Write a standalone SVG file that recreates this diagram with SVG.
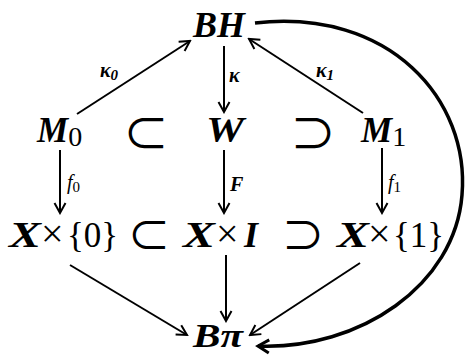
<svg xmlns="http://www.w3.org/2000/svg" width="467" height="356" viewBox="0 0 467 356">
<style>
.m{font-family:"Liberation Serif","DejaVu Serif",serif;font-weight:bold;font-style:italic;font-size:35px;fill:#000}
.x{font-family:"Liberation Serif","DejaVu Serif",serif;font-weight:bold;font-style:italic;font-size:36px;fill:#000}
.r{font-family:"Liberation Serif","DejaVu Serif",serif;font-weight:normal;font-style:normal;fill:#000}
.s{font-family:"Noto Sans CJK JP","DejaVu Sans",sans-serif;font-weight:normal;font-style:normal;fill:#000}
.lab{font-family:"Liberation Serif","DejaVu Serif",serif;font-style:italic;font-size:20px;fill:#000}
.e{stroke:#000;stroke-width:2;fill:none}
</style>
<defs>
<marker id="ah" markerWidth="14" markerHeight="14" refX="12" refY="7" orient="auto" markerUnits="userSpaceOnUse">
<path d="M2,1.5 L12,7 L2,12.5" fill="none" stroke="#000" stroke-width="2"/>
</marker>
<marker id="ahb" markerWidth="18" markerHeight="18" refX="14" refY="9" orient="auto" markerUnits="userSpaceOnUse">
<path d="M3,2.5 L14,9 L3,15.5" fill="none" stroke="#000" stroke-width="3"/>
</marker>
</defs>
<g id="BH"><text class="m" x="193" y="37" textLength="52" lengthAdjust="spacingAndGlyphs">BH</text></g>
<g id="M0"><text class="m" x="37" y="142">M<tspan class="r" font-size="28" dy="4">0</tspan></text></g>
<g id="W"><text class="m" x="206" y="142" textLength="38" lengthAdjust="spacingAndGlyphs">W</text></g>
<g id="M1"><text class="m" x="361" y="142">M<tspan class="r" font-size="28" dy="4">1</tspan></text></g>
<g id="sub1"><text class="s" x="146" y="150" style="font-size:46px" text-anchor="middle">⊂</text></g>
<g id="sup1"><text class="s" x="313" y="150" style="font-size:46px" text-anchor="middle">⊃</text></g>
<g id="X0"><text class="x" x="9" y="247" textLength="32" lengthAdjust="spacingAndGlyphs">X</text><text class="r" x="41" y="247" font-size="40">×</text><text class="r" x="67" y="247" font-size="35">{0}</text></g>
<g id="sub2"><text class="s" x="149" y="251" style="font-size:43px" text-anchor="middle">⊂</text></g>
<g id="XI"><text class="x" x="183" y="247" textLength="32" lengthAdjust="spacingAndGlyphs">X</text><text class="r" x="216" y="247" font-size="40">×</text><text class="x" x="244" y="247">I</text></g>
<g id="sup2"><text class="s" x="303" y="251" style="font-size:43px" text-anchor="middle">⊃</text></g>
<g id="X1"><text class="x" x="337" y="247" textLength="32" lengthAdjust="spacingAndGlyphs">X</text><text class="r" x="368" y="247" font-size="40">×</text><text class="r" x="393" y="247" font-size="35">{1}</text></g>
<g id="Bpi"><text class="m" x="193" y="347" font-size="33" textLength="50" lengthAdjust="spacingAndGlyphs" style="font-size:33px">Bπ</text></g>
<g id="connectors">
<line class="e" x1="77" y1="114" x2="190" y2="41" marker-end="url(#ah)"/>
<line class="e" x1="224" y1="46" x2="224" y2="112" marker-end="url(#ah)"/>
<line class="e" x1="363" y1="113" x2="249" y2="39" marker-end="url(#ah)"/>
<line class="e" x1="60" y1="150" x2="60" y2="213" marker-end="url(#ah)"/>
<line class="e" x1="224" y1="150" x2="224" y2="213" marker-end="url(#ah)"/>
<line class="e" x1="382" y1="148" x2="382" y2="213" marker-end="url(#ah)"/>
<line class="e" x1="70" y1="265" x2="187" y2="335" marker-end="url(#ah)"/>
<line class="e" x1="226" y1="255" x2="226" y2="321" marker-end="url(#ah)"/>
<line class="e" x1="360" y1="263" x2="250" y2="335" marker-end="url(#ah)"/>
<path d="M255,23 C390,8 470,100 462,195 C455,285 360,350 258,346" fill="none" stroke="#000" stroke-width="3.5" marker-end="url(#ahb)"/>
<text class="lab" x="100" y="77" font-style="normal" font-weight="bold">κ<tspan font-size="15" dy="3">0</tspan></text>
<text class="lab" x="229" y="82" font-style="normal" font-weight="bold">κ</text>
<text class="lab" x="316" y="77" font-style="normal" font-weight="bold">κ<tspan font-size="15" dy="3">1</tspan></text>
<text class="lab" x="67" y="189">f<tspan font-size="15" dy="3" font-style="normal">0</tspan></text>
<text class="lab" x="230" y="191" font-weight="bold">F</text>
<text class="lab" x="388" y="189">f<tspan font-size="15" dy="3" font-style="normal">1</tspan></text>
</g>
</svg>
